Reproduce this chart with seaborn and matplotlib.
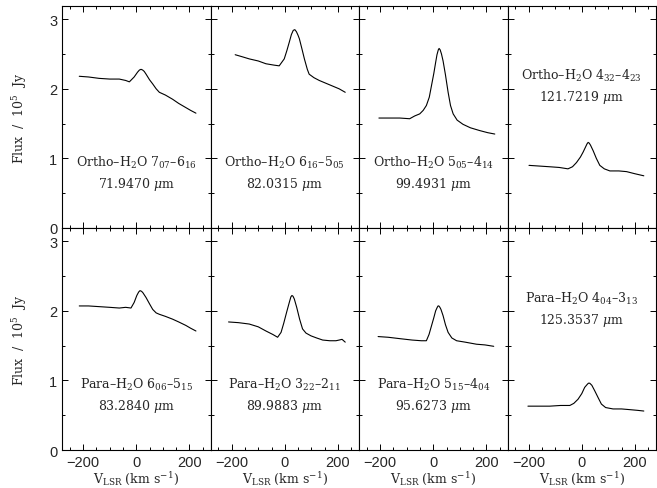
import numpy as np
import pandas as pd
import matplotlib
matplotlib.use("Agg")
import matplotlib.pyplot as plt
import seaborn as sns
from matplotlib.ticker import MultipleLocator

# velocity (km/s) and flux (1e5 Jy)
v1 = [-215, -180, -140, -100, -64, -40, -26, -8, 5, 12, 18, 24, 30, 37, 50, 62, 75, 87, 110, 137, 160, 187, 205, 225]
f1 = [2.18, 2.17, 2.15, 2.14, 2.14, 2.12, 2.10, 2.17, 2.24, 2.27, 2.28, 2.27, 2.25, 2.21, 2.13, 2.07, 2.00, 1.95, 1.91, 1.85, 1.79, 1.73, 1.69, 1.65]

v2 = [-187, -160, -134, -100, -71, -40, -21, -2, 8, 17, 25, 32, 38, 44, 50, 55, 65, 74, 85, 92, 110, 130, 155, 180, 205, 228]
f2 = [2.49, 2.46, 2.43, 2.40, 2.36, 2.34, 2.33, 2.43, 2.55, 2.67, 2.78, 2.84, 2.85, 2.82, 2.77, 2.72, 2.57, 2.43, 2.28, 2.21, 2.16, 2.12, 2.08, 2.04, 2.00, 1.95]

v3 = [-205, -170, -126, -89, -70, -51, -38, -26, -15, -7, 2, 9, 14, 19, 22, 26, 31, 37, 46, 56, 65, 75, 90, 112, 140, 175, 205, 232]
f3 = [1.58, 1.58, 1.58, 1.57, 1.61, 1.64, 1.69, 1.76, 1.88, 2.04, 2.22, 2.38, 2.49, 2.56, 2.58, 2.56, 2.50, 2.40, 2.20, 1.95, 1.76, 1.64, 1.55, 1.49, 1.44, 1.40, 1.37, 1.35]

v4 = [-199, -160, -121, -85, -52, -35, -20, -5, 5, 15, 20, 24, 28, 33, 43, 55, 68, 85, 106, 140, 169, 200, 234]
f4 = [0.90, 0.89, 0.88, 0.87, 0.85, 0.88, 0.94, 1.02, 1.09, 1.17, 1.21, 1.23, 1.22, 1.19, 1.11, 1.00, 0.90, 0.85, 0.82, 0.82, 0.81, 0.78, 0.75]

v5 = [-215, -180, -140, -100, -64, -40, -20, -8, 2, 9, 14, 20, 25, 37, 50, 62, 75, 87, 110, 137, 160, 187, 205, 225]
f5 = [2.07, 2.07, 2.06, 2.05, 2.04, 2.05, 2.04, 2.12, 2.22, 2.27, 2.29, 2.28, 2.26, 2.19, 2.10, 2.02, 1.97, 1.95, 1.92, 1.88, 1.84, 1.79, 1.75, 1.71]

v6 = [-212, -175, -134, -100, -71, -45, -27, -14, -4, 7, 17, 23, 27, 31, 36, 45, 56, 67, 80, 99, 120, 143, 170, 193, 205, 216, 228]
f6 = [1.84, 1.83, 1.81, 1.77, 1.71, 1.66, 1.62, 1.69, 1.82, 1.98, 2.12, 2.20, 2.22, 2.21, 2.17, 2.05, 1.88, 1.74, 1.68, 1.64, 1.61, 1.58, 1.57, 1.57, 1.58, 1.59, 1.55]

v7 = [-208, -170, -126, -80, -45, -26, -16, -7, 2, 9, 15, 18, 21, 25, 29, 37, 46, 56, 70, 88, 120, 163, 195, 228]
f7 = [1.63, 1.62, 1.60, 1.58, 1.57, 1.57, 1.66, 1.78, 1.90, 2.00, 2.05, 2.07, 2.07, 2.05, 2.02, 1.93, 1.80, 1.69, 1.61, 1.57, 1.55, 1.52, 1.51, 1.49]

v8 = [-203, -160, -121, -80, -45, -30, -14, 0, 11, 20, 25, 30, 38, 49, 62, 74, 90, 118, 150, 181, 210, 234]
f8 = [0.63, 0.63, 0.63, 0.64, 0.64, 0.67, 0.73, 0.81, 0.90, 0.94, 0.96, 0.96, 0.93, 0.85, 0.75, 0.66, 0.61, 0.59, 0.59, 0.58, 0.57, 0.56]

line_names = [
    "Ortho\u2013H$_2$O 7$_{07}$\u20136$_{16}$",
    "Ortho\u2013H$_2$O 6$_{16}$\u20135$_{05}$",
    "Ortho\u2013H$_2$O 5$_{05}$\u20134$_{14}$",
    "Ortho\u2013H$_2$O 4$_{32}$\u20134$_{23}$",
    "Para\u2013H$_2$O 6$_{06}$\u20135$_{15}$",
    "Para\u2013H$_2$O 3$_{22}$\u20132$_{11}$",
    "Para\u2013H$_2$O 5$_{15}$\u20134$_{04}$",
    "Para\u2013H$_2$O 4$_{04}$\u20133$_{13}$",
]
wavelengths = ["71.9470", "82.0315", "99.4931", "121.7219",
               "83.2840", "89.9883", "95.6273", "125.3537"]
label_y = [0.95, 0.95, 0.95, 2.20, 0.95, 0.95, 0.95, 2.18]

vels = [v1, v2, v3, v4, v5, v6, v7, v8]
fluxes = [f1, f2, f3, f4, f5, f6, f7, f8]

frames = []
for i, (v, f) in enumerate(zip(vels, fluxes)):
    frames.append(pd.DataFrame({"v": v, "flux": f, "panel": i}))
df = pd.concat(frames, ignore_index=True)

sns.set_style("ticks")
plt.rcParams["font.family"] = ["Liberation Sans", "DejaVu Sans"]
plt.rcParams["mathtext.fontset"] = "dejavuserif"
plt.rcParams["axes.linewidth"] = 0.8
serif = ["DejaVu Serif"]

fig, axes = plt.subplots(2, 4, figsize=(6.57, 4.89), dpi=100, sharex=True, sharey=True)
fig.subplots_adjust(left=0.0944, right=0.9985, top=0.9857, bottom=0.0777, wspace=0, hspace=0)

for i, ax in enumerate(axes.flat):
    sns.lineplot(data=df[df["panel"] == i], x="v", y="flux", ax=ax,
                 color="black", linewidth=0.8, estimator=None, sort=False)
    ax.set_xlim(-280, 280)
    ax.set_ylim(0, 3.19)
    ax.xaxis.set_major_locator(MultipleLocator(200))
    ax.xaxis.set_minor_locator(MultipleLocator(50))
    ax.yaxis.set_major_locator(MultipleLocator(1))
    ax.yaxis.set_minor_locator(MultipleLocator(0.5))
    ax.tick_params(which="both", direction="in", top=True, right=True,
                   color="black", labelsize=10.5, width=0.7)
    ax.tick_params(which="major", length=4)
    ax.tick_params(which="minor", length=2)
    ax.set_xlabel("")
    ax.set_ylabel("")
    for s in ax.spines.values():
        s.set_color("black")
    ax.text(0, label_y[i], line_names[i], ha="center", va="center",
            fontsize=9, family=serif)
    ax.text(0, label_y[i] - 0.31, wavelengths[i] + " $\\mu$m", ha="center", va="center",
            fontsize=9, family=serif)
    if i >= 4:
        ax.set_xlabel("V$_{\\rm LSR}$ (km s$^{-1}$)", fontsize=9, family=serif, labelpad=1)
    if i % 4 == 0:
        ax.set_ylabel("Flux  /  10$^5$  Jy", fontsize=9, family=serif, labelpad=14)

fig.savefig("out.png", dpi=100)
